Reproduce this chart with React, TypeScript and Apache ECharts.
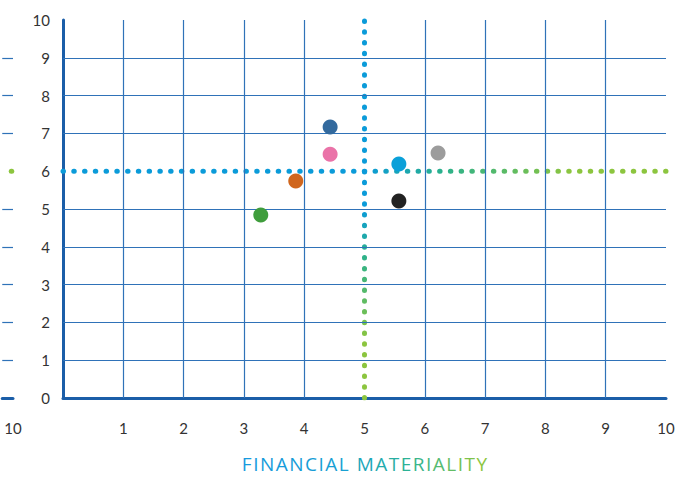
import React, { useEffect, useRef } from "react";
import * as echarts from "echarts";

// Materiality scores (x: financial, y: impact)
const financialScores = [4.43, 4.43, 5.57, 6.22, 3.86, 5.57, 3.28];
const impactScores = [7.17, 6.45, 6.19, 6.48, 5.74, 5.21, 4.84];
const dotPalette = ["#336a9e", "#ea73a8", "#0aa0d9", "#9c9c9c", "#d0661d", "#222222", "#3f9d3c"];

const axisMin = 0;
const axisMax = 10;
const thresholdX = 5;
const thresholdY = 6;
// grid lines; the threshold positions carry the dotted lines instead
const xGridValues = [1, 2, 3, 4, 6, 7, 8, 9];
const yGridValues = [1, 2, 3, 4, 5, 7, 8, 9];
const axisTitle = "FINANCIAL MATERIALITY";

const W = 693;
const H = 477;
const G = { left: 63, right: 27, top: 20, bottom: 79 };
const GRID_COLOR = "#2f72b8";
const AXIS_COLOR = "#1b5ea8";
const BLUE = "#0b9bd9";
const TEAL = "#2bb18c";
const LIME = "#8cc53f";
const FONT = "Lato";

// colour stops used for the axis title, left to right
const titleStops: [number, number[]][] = [
  [0, [22, 154, 222]],
  [0.4, [24, 160, 210]],
  [0.65, [44, 178, 150]],
  [1, [141, 198, 63]],
];

function stopColor(t: number) {
  for (let i = 1; i < titleStops.length; i++) {
    const [o1, c1] = titleStops[i];
    const [o0, c0] = titleStops[i - 1];
    if (t <= o1) {
      const k = (t - o0) / (o1 - o0 || 1);
      const c = c0.map((v, j) => Math.round(v + (c1[j] - v) * k));
      return `rgb(${c[0]},${c[1]},${c[2]})`;
    }
  }
  const c = titleStops[titleStops.length - 1][1];
  return `rgb(${c[0]},${c[1]},${c[2]})`;
}

export default function App() {
  const ref = useRef<HTMLDivElement>(null);

  useEffect(() => {
    if (!ref.current) return;
    const chart = echarts.init(ref.current, undefined, { renderer: "svg" });

    const x0 = G.left;
    const x1 = W - G.right;
    const y0 = G.top;
    const y1 = H - G.bottom;

    const hGradient = new echarts.graphic.LinearGradient(
      x0, 0, x1, 0,
      [
        { offset: 0, color: BLUE },
        { offset: 0.5, color: BLUE },
        { offset: 0.63, color: TEAL },
        { offset: 0.84, color: LIME },
        { offset: 1, color: LIME },
      ],
      true
    );
    const vGradient = new echarts.graphic.LinearGradient(
      0, y0, 0, y1,
      [
        { offset: 0, color: BLUE },
        { offset: 0.5, color: BLUE },
        { offset: 0.62, color: TEAL },
        { offset: 0.85, color: LIME },
        { offset: 1, color: LIME },
      ],
      true
    );

    const label = { color: "#333333", fontFamily: FONT, fontSize: 15 };
    const dotted = (color: any) => ({
      width: 5,
      type: [0.5, 10.26],
      cap: "round",
      color,
    });
    const gridMarkLine = (data: any[]) => ({
      silent: true,
      symbol: "none",
      label: { show: false },
      lineStyle: { color: GRID_COLOR, width: 1.2, type: "solid" },
      emphasis: { disabled: true },
      data,
    });

    // per-letter colours give the title its blue-to-green fade
    const chars = axisTitle.split("");
    const rich: Record<string, any> = {};
    const richText = chars
      .map((ch, i) => {
        const key = "c" + i;
        rich[key] = {
          fill: stopColor(i / (chars.length - 1)),
          fontFamily: "Open Sans",
          fontSize: 19,
          padding: [0, 0.75, 0, 0.75],
        };
        return `{${key}|${ch}}`;
      })
      .join("");

    // the neighbouring panel only shows its last sliver at the left edge
    const edgeMin = 9.785;

    chart.setOption({
      animation: false,
      grid: [
        { left: G.left, right: G.right, top: G.top, bottom: G.bottom },
        { left: 0, width: 13, top: G.top, bottom: G.bottom },
      ],
      xAxis: [
        {
          gridIndex: 0,
          type: "value",
          min: axisMin,
          max: axisMax,
          interval: 1,
          axisLine: { show: true, lineStyle: { color: AXIS_COLOR, width: 3 } },
          axisTick: { show: false },
          axisLabel: { ...label, margin: 22, showMinLabel: false },
          splitLine: { show: false },
        },
        {
          gridIndex: 1,
          type: "value",
          min: edgeMin,
          max: axisMax,
          axisLine: { show: true, lineStyle: { color: AXIS_COLOR, width: 3 } },
          axisTick: { show: false },
          axisLabel: {
            ...label,
            margin: 22,
            showMinLabel: false,
            formatter: (v: number) => (v === axisMax ? String(axisMax) : ""),
          },
          splitLine: { show: false },
        },
      ],
      yAxis: [
        {
          gridIndex: 0,
          type: "value",
          min: axisMin,
          max: axisMax,
          interval: 1,
          axisLine: { show: true, lineStyle: { color: AXIS_COLOR, width: 3 } },
          axisTick: { show: false },
          axisLabel: { ...label, margin: 13 },
          splitLine: { show: false },
        },
        {
          gridIndex: 1,
          type: "value",
          min: axisMin,
          max: axisMax,
          interval: 1,
          axisLine: { show: false },
          axisTick: { show: false },
          axisLabel: { show: false },
          splitLine: { show: false },
        },
      ],
      series: [
        {
          type: "line",
          xAxisIndex: 0,
          yAxisIndex: 0,
          data: [],
          z: 1,
          markLine: gridMarkLine([
            ...xGridValues.map((v) => ({ xAxis: v })),
            ...yGridValues.map((v) => ({ yAxis: v })),
          ]),
        },
        {
          type: "line",
          xAxisIndex: 1,
          yAxisIndex: 1,
          data: [],
          z: 1,
          markLine: gridMarkLine(yGridValues.map((v) => ({ yAxis: v }))),
        },
        {
          type: "line",
          xAxisIndex: 0,
          yAxisIndex: 0,
          data: [
            [axisMin, thresholdY],
            [axisMax, thresholdY],
          ],
          symbol: "none",
          lineStyle: dotted(hGradient),
          z: 3,
          silent: true,
        },
        {
          type: "line",
          xAxisIndex: 0,
          yAxisIndex: 0,
          data: [
            [thresholdX, axisMin],
            [thresholdX, axisMax],
          ],
          symbol: "none",
          lineStyle: dotted(vGradient),
          z: 3,
          silent: true,
        },
        {
          type: "line",
          xAxisIndex: 1,
          yAxisIndex: 1,
          data: [
            [9.965, thresholdY],
            [axisMax, thresholdY],
          ],
          symbol: "none",
          lineStyle: dotted(LIME),
          z: 3,
          silent: true,
        },
        {
          type: "scatter",
          xAxisIndex: 0,
          yAxisIndex: 0,
          symbolSize: 15,
          z: 5,
          data: financialScores.map((x, i) => ({
            value: [x, impactScores[i]],
            itemStyle: { color: dotPalette[i], opacity: 1 },
          })),
        },
      ],
      graphic: [
        {
          type: "text",
          x: (x0 + x1) / 2,
          y: 464,
          style: {
            text: richText,
            rich,
            align: "center",
            verticalAlign: "middle",
          },
        },
      ],
    });

    return () => chart.dispose();
  }, []);

  return (
    <div
      ref={ref}
      style={{ position: "fixed", left: 0, top: 0, width: W, height: H, background: "#ffffff" }}
    />
  );
}
